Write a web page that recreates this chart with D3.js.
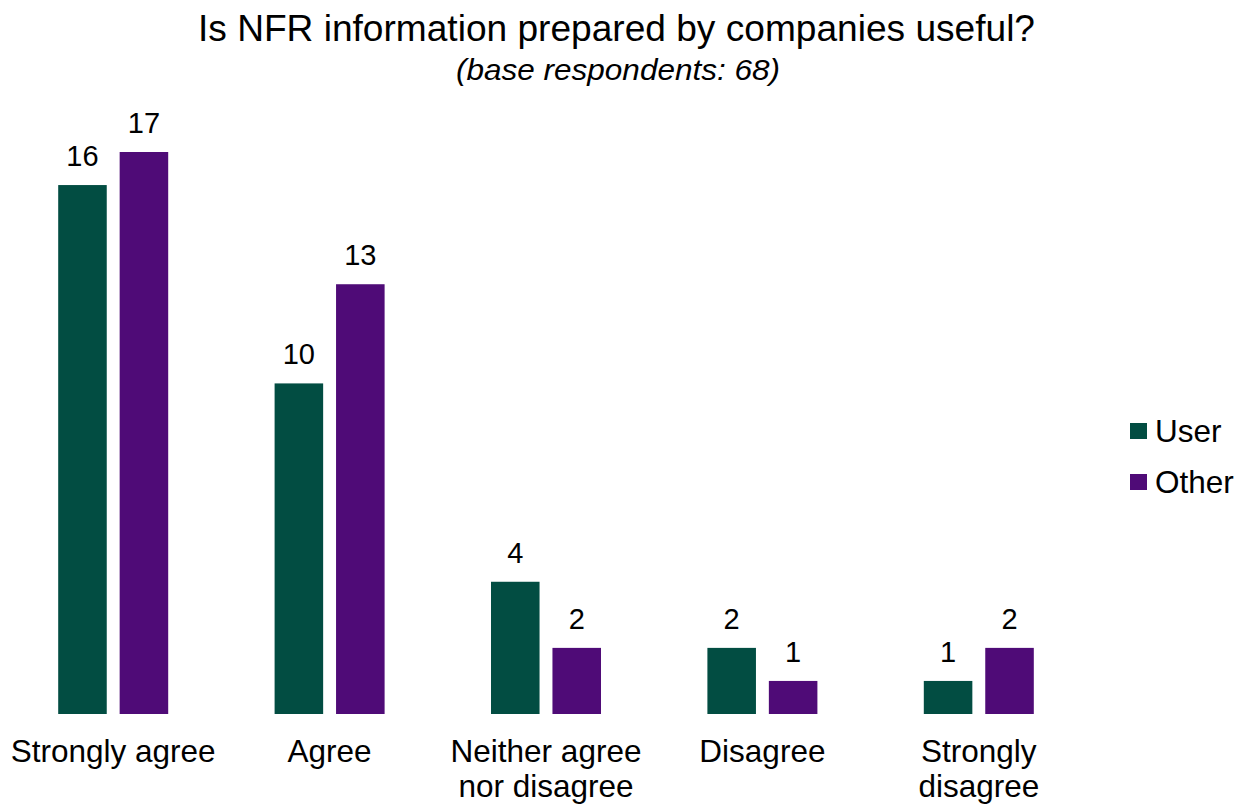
<!DOCTYPE html>
<html>
<head>
<meta charset="utf-8">
<script src="https://cdn.jsdelivr.net/npm/d3@7"></script>
<style>
  html, body { margin: 0; padding: 0; background: #ffffff; }
  svg { display: block; font-family: "Liberation Sans", Arial, sans-serif; }
</style>
</head>
<body>
<svg id="chart" width="1243" height="805"></svg>
<script>
// Survey answers and counts per respondent group
const categories = [
  ["Strongly agree"],
  ["Agree"],
  ["Neither agree", "nor disagree"],
  ["Disagree"],
  ["Strongly", "disagree"]
];
const seriesNames = ["User", "Other"];
const userValues = [16, 10, 4, 2, 1];
const otherValues = [17, 13, 2, 1, 2];
const seriesColors = ["#024d42", "#4f0b77"];

const titleText = "Is NFR information prepared by companies useful?";
const subtitleText = "(base respondents: 68)";

const svg = d3.select("#chart");

const rows = categories.map((c, i) => ({
  key: c.join(" "),
  lines: c,
  values: [userValues[i], otherValues[i]]
}));

const baseline = 714;
const x0 = d3.scaleBand()
  .domain(rows.map(d => d.key))
  .range([5, 1087])
  .paddingInner(0)
  .paddingOuter(0);

const x1 = d3.scaleBand()
  .domain(seriesNames)
  .range([x0.bandwidth() / 2 - 55, x0.bandwidth() / 2 + 55])
  .paddingInner(0.21)
  .paddingOuter(0);

const y = d3.scaleLinear()
  .domain([0, 17])
  .range([baseline, 152]);

const color = d3.scaleOrdinal().domain(seriesNames).range(seriesColors);

// Titles (condensed typeface look)
svg.append("text")
  .attr("x", 198).attr("y", 41)
  .attr("font-size", 36)
  .attr("textLength", 837)
  .attr("lengthAdjust", "spacingAndGlyphs")
  .attr("fill", "#000")
  .text(titleText);

svg.append("text")
  .attr("x", 456).attr("y", 80)
  .attr("font-size", 29)
  .attr("font-style", "italic")
  .attr("textLength", 324)
  .attr("lengthAdjust", "spacingAndGlyphs")
  .attr("fill", "#000")
  .text(subtitleText);

// Bar groups
const groups = svg.append("g").selectAll("g")
  .data(rows)
  .join("g")
  .attr("transform", d => `translate(${x0(d.key)},0)`);

const cells = groups.selectAll("g.cell")
  .data(d => d.values.map((v, i) => ({ name: seriesNames[i], value: v })))
  .join("g").attr("class", "cell");

cells.append("rect")
  .attr("x", d => x1(d.name))
  .attr("width", x1.bandwidth())
  .attr("y", d => y(d.value))
  .attr("height", d => baseline - y(d.value))
  .attr("fill", d => color(d.name));

cells.append("text")
  .attr("x", d => x1(d.name) + x1.bandwidth() / 2)
  .attr("y", d => y(d.value) - 19)
  .attr("text-anchor", "middle")
  .attr("font-size", 29)
  .attr("fill", "#000")
  .text(d => d.value);

// Category labels
const labels = svg.append("g").selectAll("text")
  .data(rows)
  .join("text")
  .attr("x", d => x0(d.key) + x0.bandwidth() / 2)
  .attr("y", 762)
  .attr("text-anchor", "middle")
  .attr("font-size", 31.5)
  .attr("fill", "#000");

labels.selectAll("tspan")
  .data(d => d.lines)
  .join("tspan")
  .attr("x", function () { return d3.select(this.parentNode).attr("x"); })
  .attr("dy", (d, i) => i === 0 ? 0 : 35)
  .text(d => d);

// Legend
const legend = svg.append("g").selectAll("g")
  .data(seriesNames)
  .join("g")
  .attr("transform", (d, i) => `translate(1130,${423 + i * 51})`);

legend.append("rect")
  .attr("width", 17).attr("height", 16)
  .attr("fill", d => color(d));

legend.append("text")
  .attr("x", 25).attr("y", 19)
  .attr("font-size", 31.5)
  .attr("fill", "#000")
  .text(d => d);
</script>
</body>
</html>
